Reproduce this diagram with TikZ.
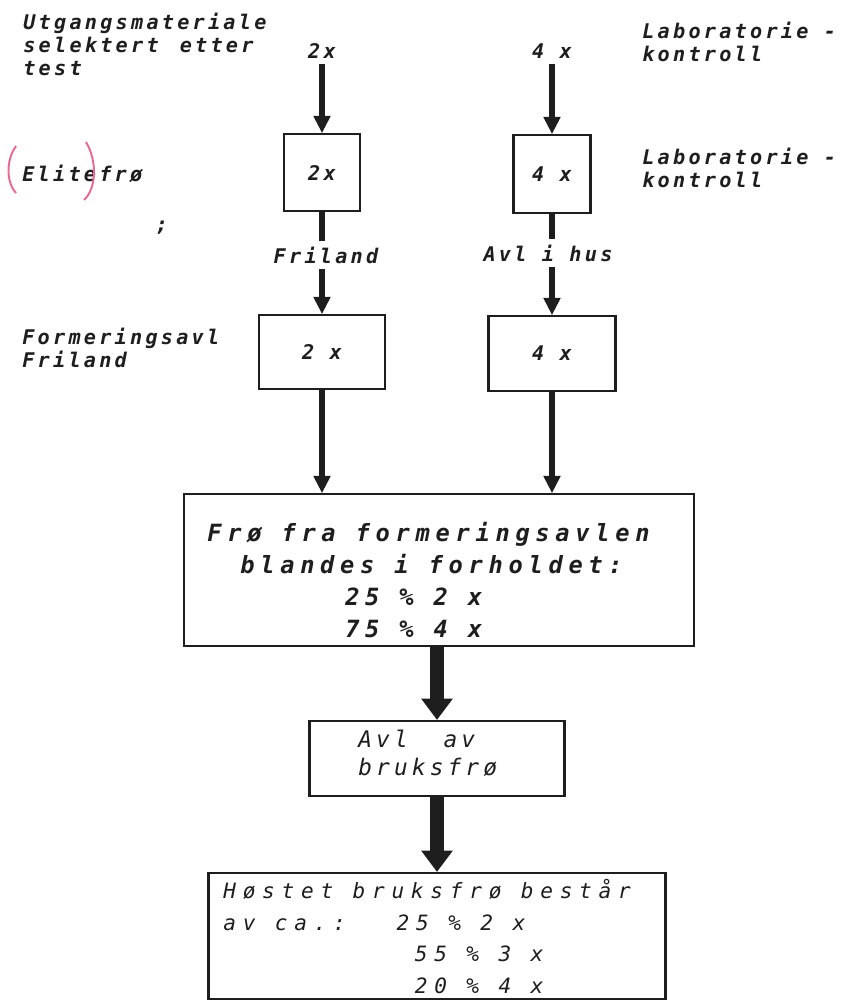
\documentclass[tikz,border=0pt]{standalone}
\usepackage{fontspec}
\usetikzlibrary{positioning, arrows.meta, calc}
\newfontfamily\lettering{DejaVu Sans Mono}
\newcommand{\lblfont}{\lettering\bfseries\itshape\fontsize{11.5}{13}\selectfont\addfontfeature{LetterSpace=16}}
\newcommand{\mixfont}{\lettering\bfseries\itshape\fontsize{13.5}{18.2}\selectfont\addfontfeature{LetterSpace=24}}
\newcommand{\avlfont}{\lettering\itshape\fontsize{13}{15.9}\selectfont\addfontfeature{LetterSpace=18}}
\newcommand{\harvfont}{\lettering\itshape\fontsize{12}{18}\selectfont\addfontfeature{LetterSpace=32}}
\definecolor{ink}{RGB}{30,30,30}
\definecolor{elitemark}{RGB}{232,104,146}
\tikzset{
    lbl/.style={font=\lblfont, text=ink, inner sep=0pt, align=left},
    tag/.style={lbl, inner sep=3pt},
    flowbox/.style={draw=ink, line width=1.4pt, font=\lblfont, text=ink, inner sep=0pt},
    flow/.style={draw=ink, line width=3.1pt, -{Triangle[length=9.6pt, width=10pt, line width=0pt]}},
    flowline/.style={draw=ink, line width=3.1pt},
    bigflow/.style={draw=ink, line width=7.9pt, -{Triangle[length=12pt, width=18pt, line width=0pt]}},
}

\begin{document}
\begin{tikzpicture}[x=0.02cm, y=-0.02cm]
    \useasboundingbox (0,0) rectangle (850,1001);
    \clip (0,0) rectangle (850,1001);

    % side texts
    \node[lbl, anchor=north west] (start) at (23,13) {Utgangsmateriale\\selektert\hspace{12pt}etter\\test};
    \node[lbl, anchor=north west] (elite) at (22,165) {Elitefrø};
    \node[lbl, anchor=north west] (formavl) at (22,328) {Formeringsavl\\Friland};
    \node[lbl] (semi) at (162,228) {;};
    \node[lbl, anchor=north west] (lab1) at (642,22) {Laboratorie -\\kontroll};
    \node[lbl, anchor=north west] (lab2) at (642,148) {Laboratorie -\\kontroll};

    \draw[elitemark, line width=1.1pt] (16,146) .. controls (6,160) and (6,182) .. (16,193);
    \draw[elitemark, line width=1.1pt] (86,142) .. controls (97,160) and (97,188) .. (84,200);

    % two columns
    \node[tag, anchor=base] (di) at (322,58) {2x};
    \node[tag, anchor=base] (tetra) at (552,58) {4 x};
    \node[flowbox, minimum width=1.52cm, minimum height=1.54cm] (b2a) at (322,172.5) {2x};
    \node[flowbox, minimum width=1.54cm, minimum height=1.56cm] (b4a) at (552,174) {4 x};
    \node[tag, anchor=base] (fri) at (326,263) {Friland};
    \node[tag, anchor=base] (hus) at (548,261) {Avl i hus};
    \node[flowbox, minimum width=2.52cm, minimum height=1.48cm] (b2b) at (322,352) {2 x};
    \node[flowbox, minimum width=2.54cm, minimum height=1.50cm] (b4b) at (552,353.5) {4 x};

    % mixing and use
    \node[flowbox, minimum width=10.2cm, minimum height=3.04cm] (mix) at (439,570) {};
    \node[lbl, font=\mixfont, anchor=north west] (mixtext) at (207,522)
        {Frø fra formeringsavlen\\\hspace*{18.8pt}blandes i forholdet:\\\hspace*{78.5pt}25 \% 2 x\\\hspace*{78.5pt}75 \% 4 x};
    \node[flowbox, minimum width=5.1cm, minimum height=1.5cm] (avl) at (437,758.5) {};
    \node[lbl, font=\avlfont, anchor=north west] (avltext) at (358,730) {Avl~ av\\bruksfrø};
    \node[flowbox, minimum width=9.14cm, minimum height=2.52cm] (harvest) at (437,936) {};
    \node[lbl, font=\harvfont, anchor=north west] (harvtext) at (223,879)
        {Høstet bruksfrø består\\\makebox[98.7pt][l]{av ca.:}25 \% 2 x\\\hspace*{109pt}55 \% 3 x\\\hspace*{109pt}20 \% 4 x};

    \draw (di) edge[flow] (b2a);
    \draw (tetra.south -| b4a.north) edge[flow] (b4a);
    \draw[flowline] (b2a.south) -- (b2a.south |- fri.north);
    \draw[flowline] (b4a.south) -- (b4a.south |- hus.north);
    \draw[flow] (b2b.north |- fri.south) -- (b2b.north);
    \draw[flow] (b4b.north |- hus.south) -- (b4b.north);
    \draw[flow] (b2b.south) -- (b2b.south |- mix.north);
    \draw[flow] (b4b.south) -- (b4b.south |- mix.north);
    \draw[bigflow] (avl.north |- mix.south) -- (avl.north);
    \draw[bigflow] (avl.south) -- (harvest.north);
\end{tikzpicture}
\end{document}
